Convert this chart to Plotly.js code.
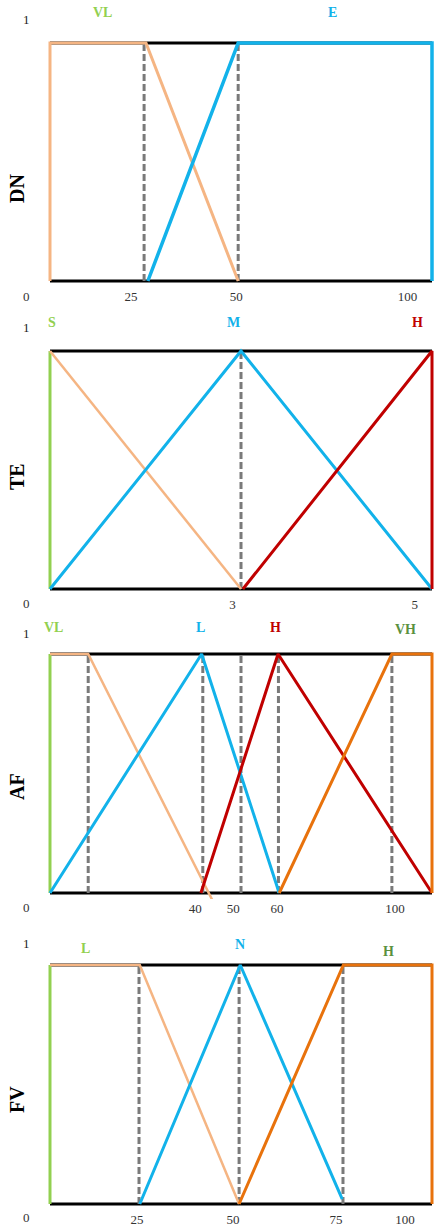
<!DOCTYPE html>
<html>
<head>
    <script src="https://cdn.plot.ly/plotly-3.0.1.min.js"></script>
    <style>
        body { margin: 0; background: #ffffff; }
        #chart { width: 438px; height: 1230px; }
    </style>
</head>
<body>
    <div id="chart"></div>
    <script>
        // membership functions, x in each panel's own units, y = degree (0..1)
        // DN
        const dnVLx = [0, 0, 25.5, 50];
        const dnVLy = [0, 1, 1, 0];
        const dnEx = [26, 50, 101.5, 101.5];
        const dnEy = [0, 1, 1, 0];
        const dnCuts = [25, 50];
        const dnTickPos = [21.5, 49.5, 95];
        const dnTickText = ['25', '50', '100'];
        const dnSets = ['VL', 'E'];
        const dnSetPos = [14, 75];

        // TE
        const teEdgeX = [1, 1];
        const teEdgeY = [0, 1];
        const teSx = [1, 3];
        const teSy = [1, 0];
        const teMx = [1, 3, 5];
        const teMy = [0, 1, 0];
        const teHx = [3.02, 5, 5];
        const teHy = [0, 1, 0];
        const teCuts = [3];
        const teTickPos = [2.91, 4.82];
        const teTickText = ['3', '5'];
        const teSets = ['S', 'M', 'H'];
        const teSetPos = [1.02, 2.92, 4.85];

        // AF
        const afEdgeX = [0, 0];
        const afEdgeY = [0, 1];
        const afVLx = [0, 10, 42.5];
        const afVLy = [1, 1, -0.03];
        const afLx = [0, 39.7, 60];
        const afLy = [0, 1, 0];
        const afHx = [39.5, 59.7, 100];
        const afHy = [0, 1, 0];
        const afVHx = [60, 89.5, 100, 100];
        const afVHy = [0, 1, 1, 0];
        const afCuts = [10, 40, 50, 59.8, 89.5];
        const afTickPos = [38, 48, 59.4, 90.3];
        const afTickText = ['40', '50', '60', '100'];
        const afSets = ['VL', 'L', 'H', 'VH'];
        const afSetPos = [1, 39.5, 59, 93];

        // FV
        const fvEdgeX = [0, 0];
        const fvEdgeY = [0, 1];
        const fvLx = [0, 23.5, 49.5];
        const fvLy = [1, 1, 0];
        const fvNx = [23.5, 49.8, 76.5];
        const fvNy = [0, 1, 0.02];
        const fvHx = [49.5, 76.8, 100, 100];
        const fvHy = [0, 1, 1, 0];
        const fvCuts = [23.3, 49.5, 76.7];
        const fvTickPos = [22.8, 47.9, 74.9, 92.9];
        const fvTickText = ['25', '50', '75', '100'];
        const fvSets = ['L', 'N', 'H'];
        const fvSetPos = [9.4, 49.7, 88.5];

        const W = 438, H = 1230, PAD = 6;
        const peach = '#f5b583', blue = '#12b2ea', red = '#c00000',
              orange = '#e8720c', lime = '#92d050', dkgreen = '#5a9140', gray = '#7a7a7a';
        const serif = 'Liberation Serif, Times New Roman, serif';

        // panels: box in pixels + x extent of the box in data units
        const panels = [
            {name: 'DN', box: [50, 432, 43, 281], lo: 0, hi: 101.5, cuts: dnCuts,
             tickPos: dnTickPos, tickText: dnTickText, sets: dnSets, setPos: dnSetPos,
             setColors: [lime, blue], setY: [12, 12], oneY: 20, zeroY: 296, titleY: 189,
             lines: [[dnVLx, dnVLy, peach, 3], [dnEx, dnEy, blue, 3.5]]},
            {name: 'TE', box: [50, 432, 351, 589], lo: 1, hi: 5, cuts: teCuts,
             tickPos: teTickPos, tickText: teTickText, sets: teSets, setPos: teSetPos,
             setColors: [lime, blue, red], setY: [323, 323, 323], oneY: 327, zeroY: 604, titleY: 477,
             lines: [[teEdgeX, teEdgeY, lime, 3], [teSx, teSy, peach, 2.5], [teMx, teMy, blue, 3],
                     [teHx, teHy, red, 3]]},
            {name: 'AF', box: [50, 432, 654, 893], lo: 0, hi: 100, cuts: afCuts,
             tickPos: afTickPos, tickText: afTickText, sets: afSets, setPos: afSetPos,
             setColors: [lime, blue, red, dkgreen], setY: [627, 627, 627, 629], oneY: 633, zeroY: 908, titleY: 787,
             lines: [[afEdgeX, afEdgeY, lime, 3], [afVLx, afVLy, peach, 2.5], [afLx, afLy, blue, 3],
                     [afHx, afHy, red, 3], [afVHx, afVHy, orange, 3]]},
            {name: 'FV', box: [50, 432, 965, 1204], lo: 0, hi: 100, cuts: fvCuts,
             tickPos: fvTickPos, tickText: fvTickText, sets: fvSets, setPos: fvSetPos,
             setColors: [lime, blue, dkgreen], setY: [948, 944, 951], oneY: 943, zeroY: 1217, titleY: 1100,
             lines: [[fvEdgeX, fvEdgeY, lime, 3], [fvLx, fvLy, peach, 2.5], [fvNx, fvNy, blue, 3],
                     [fvHx, fvHy, orange, 3]]}
        ];

        const data = [];
        const layout = {
            width: W, height: H,
            margin: {l: 0, r: 0, t: 0, b: 0},
            paper_bgcolor: '#ffffff',
            plot_bgcolor: 'rgba(0,0,0,0)',
            showlegend: false,
            shapes: [],
            annotations: []
        };

        panels.forEach((p, i) => {
            const n = i === 0 ? '' : String(i + 1);
            const xa = 'x' + n, ya = 'y' + n;
            const [l, r, t, b] = p.box;
            const sx = (r - l) / (p.hi - p.lo);
            const sy = b - t;

            layout['xaxis' + n] = {
                domain: [(l - PAD) / W, Math.min(1, (r + PAD) / W)],
                range: [p.lo - PAD / sx, p.hi + PAD / sx],
                anchor: ya,
                showgrid: false, zeroline: false, showline: false, ticks: '',
                tickvals: p.tickPos, ticktext: p.tickText,
                tickfont: {family: serif, size: 13, color: '#333333'},
                fixedrange: true
            };
            layout['yaxis' + n] = {
                domain: [1 - (b + PAD) / H, 1 - (t - PAD) / H],
                range: [-PAD / sy, 1 + PAD / sy],
                anchor: xa,
                showgrid: false, zeroline: false, showline: false,
                showticklabels: false, ticks: '',
                fixedrange: true
            };

            // black frame (top and bottom)
            [0, 1].forEach(yv => layout.shapes.push({
                type: 'line', layer: 'below', xref: xa, yref: ya,
                x0: p.lo, x1: p.hi, y0: yv, y1: yv,
                line: {color: '#000000', width: 3}
            }));

            // dashed cut lines
            p.cuts.forEach(c => data.push({
                x: [c, c], y: [0, 1], xaxis: xa, yaxis: ya,
                mode: 'lines', hoverinfo: 'skip',
                line: {color: gray, width: 3, dash: '7px,3px'}
            }));

            // membership functions
            p.lines.forEach(([xs, ys, c, w]) => data.push({
                x: xs, y: ys, xaxis: xa, yaxis: ya,
                mode: 'lines', line: {color: c, width: w}
            }));

            // set names
            p.sets.forEach((s, k) => layout.annotations.push({
                text: '<b>' + s + '</b>', xref: xa, yref: 'paper',
                x: p.setPos[k], y: 1 - p.setY[k] / H,
                xanchor: 'center', yanchor: 'middle',
                showarrow: false,
                font: {family: serif, size: 14, color: p.setColors[k]}
            }));

            // corner 1 / 0
            layout.annotations.push({
                text: '1', xref: 'paper', yref: 'paper', x: 26 / W, y: 1 - p.oneY / H,
                xanchor: 'center', yanchor: 'middle',
                showarrow: false, font: {family: serif, size: 13, color: '#222222'}
            });
            layout.annotations.push({
                text: '0', xref: 'paper', yref: 'paper', x: 26 / W, y: 1 - p.zeroY / H,
                xanchor: 'center', yanchor: 'middle',
                showarrow: false, font: {family: serif, size: 13, color: '#333333'}
            });

            // variable name
            layout.annotations.push({
                text: '<b>' + p.name + '</b>', xref: 'paper', yref: 'paper',
                x: 17 / W, y: 1 - p.titleY / H, textangle: -90,
                xanchor: 'center', yanchor: 'middle',
                showarrow: false, font: {family: serif, size: 20, color: '#000000'}
            });
        });

        Plotly.newPlot('chart', data, layout, {displayModeBar: false, staticPlot: true});
    </script>
</body>
</html>
